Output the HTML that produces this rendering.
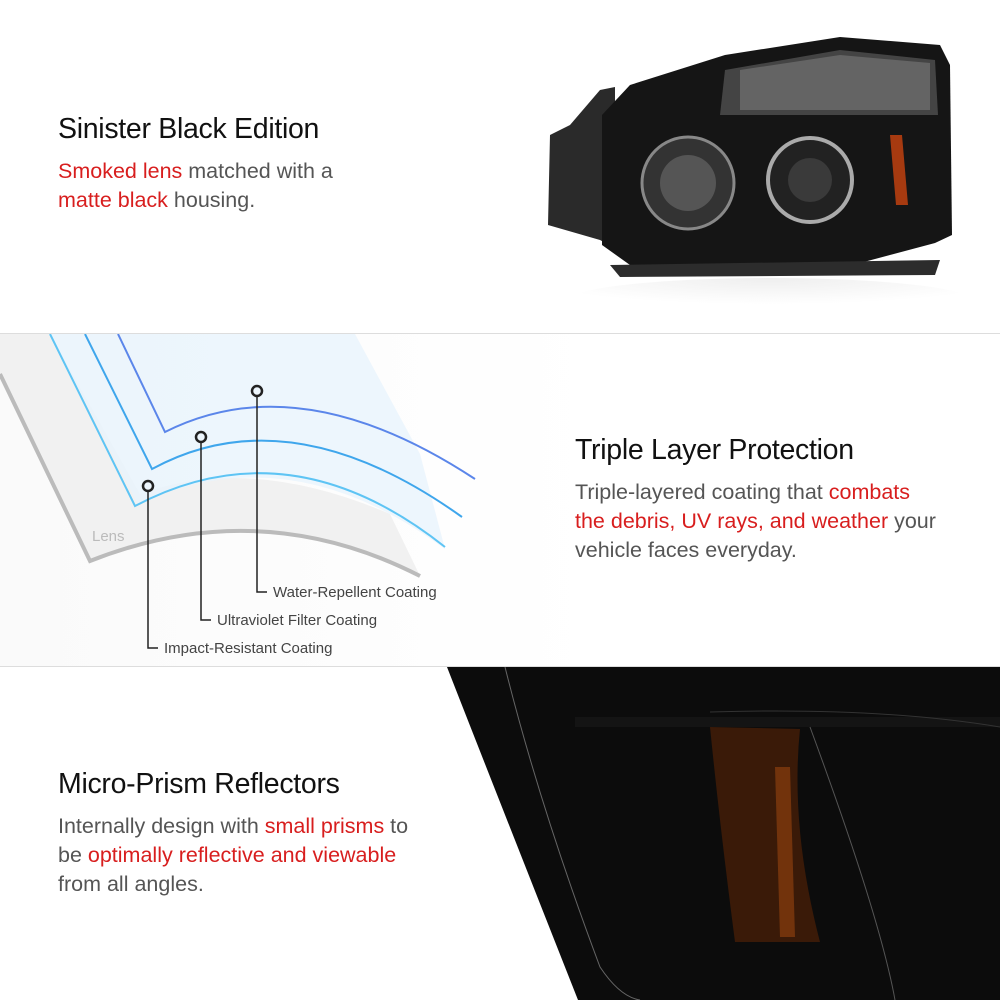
<!DOCTYPE html>
<html><head><meta charset="utf-8"><style>
body{margin:0;width:1000px;height:1000px;overflow:hidden;background:#fff;font-family:"Liberation Sans",Arial,sans-serif;position:relative}
.h{position:absolute;font-size:28.5px;color:#111;letter-spacing:-0.3px}
.p{position:absolute;font-size:21.5px;line-height:29px;color:#555}
.r{color:#d81e1e}
.hr{position:absolute;left:0;width:1000px;height:1px;background:#ddd}
</style></head><body>
<div class="h" style="left:58px;top:113px">Sinister Black Edition</div>
<div class="p" style="left:58px;top:157px"><span class="r">Smoked lens</span> matched with a<br><span class="r">matte black</span> housing.</div>

<svg style="position:absolute;left:540px;top:25px" width="430" height="300">
<defs><radialGradient id="rf" cx="50%" cy="0%" r="60%"><stop offset="0" stop-color="#eee"/><stop offset="1" stop-color="#fff"/></radialGradient></defs>
<ellipse cx="230" cy="275" rx="200" ry="22" fill="url(#rf)"/>
<path d="M60 65 L75 62 L75 80 L88 90 L88 230 L60 215 L8 200 L10 110 L30 100 Z" fill="#2a2a2a"/>
<path d="M90 60 L185 30 L300 12 L400 20 L410 40 L412 210 L395 218 L320 238 L200 245 L90 240 L62 220 L62 90 Z" fill="#151515"/>
<path d="M185 45 L300 25 L395 35 L398 90 L300 90 L180 90 Z" fill="#444"/>
<path d="M200 45 L300 30 L390 38 L390 85 L300 85 L200 85 Z" fill="#7a7a7a" opacity=".6"/>
<circle cx="148" cy="158" r="46" fill="#333" stroke="#888" stroke-width="3"/>
<circle cx="148" cy="158" r="28" fill="#555"/>
<circle cx="270" cy="155" r="42" fill="#222" stroke="#aaa" stroke-width="4"/>
<circle cx="270" cy="155" r="22" fill="#3a3a3a"/>
<path d="M350 110 L362 110 L368 180 L356 180 Z" fill="#a63a10"/>
<path d="M70 240 L400 235 L395 250 L80 252 Z" fill="#2c2c2c"/>
</svg>

<div class="hr" style="top:333px"></div>
<div style="position:absolute;left:0;top:334px;width:1000px;height:332px;background:linear-gradient(90deg,#fafafa,#fff 60%)"></div>
<svg style="position:absolute;left:0;top:334px" width="500" height="332">
<path d="M0 0 L0 40 L90 227 Q260 160 420 242 L390 180 Q250 120 140 160 L50 0 Z" fill="#f1f1f1"/>
<path d="M0 40 L90 227 Q260 160 420 242" fill="none" stroke="#bbb" stroke-width="4"/>
<path d="M50 0 L138 170 Q290 100 445 215 L420 120 L355 0 Z" fill="#e9f4fc" opacity=".8"/>
<path d="M50 0 L135 172 Q290 90 445 213" fill="none" stroke="#5ec4f4" stroke-width="2"/>
<path d="M85 0 L152 135 Q290 60 462 183" fill="none" stroke="#3fa6ec" stroke-width="2"/>
<path d="M118 0 L165 98 Q300 30 475 145" fill="none" stroke="#5b86ea" stroke-width="2"/>
<text x="92" y="207" font-size="15" fill="#bbb" font-family="Liberation Sans">Lens</text>
<g stroke="#222" stroke-width="1.5" fill="none">
<circle cx="148" cy="152" r="5" stroke-width="2.5"/><path d="M148 157 V314 H158"/>
<circle cx="201" cy="103" r="5" stroke-width="2.5"/><path d="M201 108 V286 H211"/>
<circle cx="257" cy="57" r="5" stroke-width="2.5"/><path d="M257 62 V258 H267"/>
</g>
<g font-size="15" fill="#444" font-family="Liberation Sans">
<text x="273" y="263">Water-Repellent Coating</text>
<text x="217" y="291">Ultraviolet Filter Coating</text>
<text x="164" y="319">Impact-Resistant Coating</text>
</g>
</svg>
<div class="h" style="left:575px;top:434px">Triple Layer Protection</div>
<div class="p" style="left:575px;top:478px">Triple-layered coating that <span class="r">combats<br>the debris, UV rays, and weather</span> your<br>vehicle faces everyday.</div>
<div class="hr" style="top:666px"></div>

<svg style="position:absolute;left:0;top:667px" width="1000" height="333">
<path d="M447 0 L1000 0 L1000 333 L578 333 Q490 110 447 0 Z" fill="#0c0c0c"/>
<path d="M505 0 Q540 140 600 300 Q620 330 640 333" fill="none" stroke="#666" stroke-width="1"/>
<path d="M575 50 L1000 50 L1000 60 L575 60 Z" fill="#141414"/>
<path d="M710 45 Q880 40 1000 60" fill="none" stroke="#333"/>
<path d="M810 60 Q880 250 895 333" fill="none" stroke="#555"/>
<path d="M710 60 L800 62 Q790 160 820 275 L735 275 Q720 160 710 60 Z" fill="#3a1a08"/>
<path d="M775 100 L790 100 L795 270 L780 270 Z" fill="#8a3f0e" opacity=".7"/>
</svg>
<div class="h" style="left:58px;top:768px">Micro-Prism Reflectors</div>
<div class="p" style="left:58px;top:812px">Internally design with <span class="r">small prisms</span> to<br>be <span class="r">optimally reflective and viewable</span><br>from all angles.</div>
</body></html>
